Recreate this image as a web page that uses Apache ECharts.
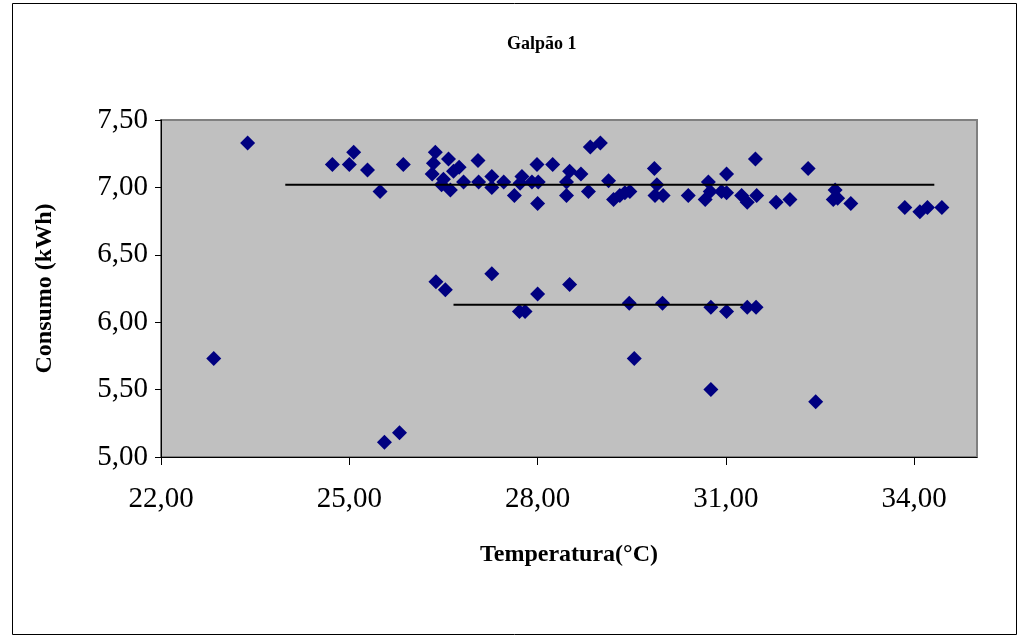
<!DOCTYPE html>
<html><head><meta charset="utf-8">
<script src="https://cdn.jsdelivr.net/npm/echarts@6/dist/echarts.min.js"></script>
<style>html,body{margin:0;padding:0;background:#fff}#c{width:1029px;height:638px}</style>
</head><body><div id="c"></div>
<script>
const title = 'Galpão 1';
const xName = 'Temperatura(°C)';
const yName = 'Consumo (kWh)';
const xTicks = [22, 25, 28, 31, 34];
const points = [
  [22.84,5.73],[23.38,7.33],[24.73,7.17],[25.07,7.26],[25.00,7.17],[25.29,7.13],[25.49,6.97],[25.86,7.17],
  [26.37,7.26],[26.58,7.21],[27.05,7.20],[26.34,7.18],[26.32,7.10],[26.75,7.15],[26.66,7.12],[26.50,7.06],
  [26.61,6.98],[26.47,7.02],[26.82,7.04],[27.06,7.04],[27.27,7.08],[27.27,7.00],[27.46,7.04],[27.63,6.94],
  [27.75,7.08],[27.72,7.03],[27.91,7.04],[28.01,7.04],[27.99,7.17],[28.24,7.17],[28.00,6.88],[28.51,7.12],
  [28.69,7.10],[28.46,7.04],[28.46,6.94],[28.81,6.97],[28.84,7.30],[29.00,7.33],[29.13,7.05],[29.21,6.91],
  [29.31,6.94],[29.39,6.96],[29.47,6.97],[29.86,7.14],[29.90,7.02],[29.87,6.94],[30.00,6.94],[30.40,6.94],
  [30.72,7.04],[30.67,6.91],[30.75,6.97],[31.01,7.10],[30.93,6.97],[31.01,6.96],[31.47,7.21],[31.25,6.94],
  [31.34,6.89],[31.49,6.94],[31.80,6.89],[32.02,6.91],[32.31,7.14],[32.74,6.98],[32.71,6.91],[32.78,6.92],
  [32.99,6.88],[33.85,6.85],[34.09,6.82],[34.21,6.85],[34.44,6.85],
  [26.38,6.30],[26.53,6.24],[27.27,6.36],[27.71,6.08],[27.80,6.08],[28.00,6.21],[28.51,6.28],
  [25.56,5.11],[25.80,5.18],[29.46,6.14],[29.99,6.14],[30.76,6.11],[31.01,6.08],[31.34,6.11],[31.48,6.11],
  [29.54,5.73],[30.76,5.50],[32.43,5.41]
];
const trendHigh = [[23.98,7.02],[34.32,7.02]];
const trendLow = [[26.66,6.13],[31.27,6.13]];

const serif = "'Liberation Serif','Times New Roman',serif";
const fmt = v => v.toFixed(2).replace('.', ',');
const chart = echarts.init(document.getElementById('c'));
chart.setOption({
  animation: false,
  backgroundColor: '#ffffff',
  title: {text: title, left: 502, top: 30, textStyle: {fontFamily: serif, fontSize: 18, fontWeight: 'bold', color: '#000'}},
  graphic: [{type: 'rect', shape: {x: 12.5, y: 3.5, width: 1004, height: 631}, style: {fill: 'none', stroke: '#000', lineWidth: 1}, silent: true}],
  grid: {left: 161, top: 120, width: 816, height: 337, show: true, backgroundColor: '#C0C0C0', borderColor: '#808080', borderWidth: 2},
  xAxis: {
    type: 'value', min: 22, max: 35,
    name: xName, nameLocation: 'middle', nameGap: 86,
    nameTextStyle: {fontFamily: serif, fontSize: 24, fontWeight: 'bold', color: '#000', verticalAlign: 'top'},
    axisLine: {show: true, lineStyle: {color: '#000', width: 1}},
    axisTick: {show: true, length: 8, customValues: xTicks, lineStyle: {color: '#000'}},
    axisLabel: {customValues: xTicks, margin: 28, fontFamily: serif, fontSize: 29, color: '#000', formatter: fmt},
    splitLine: {show: false}
  },
  yAxis: {
    type: 'value', min: 5, max: 7.5, interval: 0.5,
    name: yName, nameLocation: 'middle', nameGap: 104, nameRotate: 90,
    nameTextStyle: {fontFamily: serif, fontSize: 24, fontWeight: 'bold', color: '#000'},
    axisLine: {show: true, lineStyle: {color: '#000', width: 1}},
    axisTick: {show: true, length: 6, lineStyle: {color: '#000'}},
    axisLabel: {margin: 13, fontFamily: serif, fontSize: 29, color: '#000', formatter: fmt},
    splitLine: {show: false}
  },
  series: [
    {type: 'scatter', data: points, symbol: 'diamond', symbolSize: 15, itemStyle: {color: '#000080', opacity: 1}, z: 3},
    {type: 'line', data: trendHigh, symbol: 'none', lineStyle: {color: '#000', width: 2}, z: 4, silent: true},
    {type: 'line', data: trendLow, symbol: 'none', lineStyle: {color: '#000', width: 2}, z: 4, silent: true}
  ]
});
</script></body></html>
